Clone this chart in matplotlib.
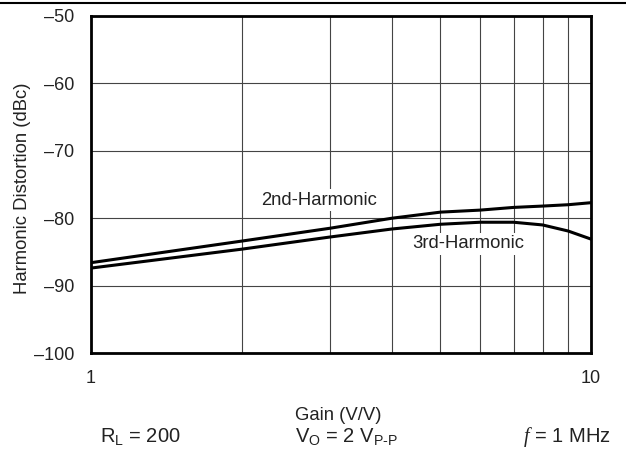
import matplotlib
matplotlib.use('Agg')
import matplotlib.pyplot as plt
from matplotlib.ticker import FixedLocator, NullFormatter

plt.rcParams['font.family'] = ['Liberation Sans', 'DejaVu Sans']
plt.rcParams['mathtext.fontset'] = 'custom'
plt.rcParams['mathtext.rm'] = 'Liberation Sans'
plt.rcParams['mathtext.it'] = 'Liberation Serif:italic'

# gain (V/V) and distortion (dBc)
gain = [1, 2, 3, 4, 5, 6, 7, 8, 9, 10]
hd2 = [-86.6, -83.4, -81.5, -80.0, -79.1, -78.8, -78.4, -78.2, -78.0, -77.7]
hd3 = [-87.4, -84.6, -82.8, -81.6, -80.9, -80.6, -80.6, -81.0, -81.9, -83.1]

y_ticks = [-100, -90, -80, -70, -60, -50]
y_labels = ['\u2013100', '\u201390', '\u201380', '\u201370', '\u201360', '\u201350']

txt = '#222222'

fig = plt.figure(figsize=(6.26, 4.49), dpi=100)
ax = fig.add_axes([91 / 626, 1 - 353 / 449, 500 / 626, 337 / 449])

ax.plot(gain, hd2, color='black', linewidth=2.2, zorder=3)
ax.plot(gain, hd3, color='black', linewidth=2.2, zorder=3)

ax.set_xscale('log')
ax.set_xlim(1, 10)
ax.set_ylim(-100, -50)
ax.xaxis.set_major_locator(FixedLocator([1, 10]))
ax.xaxis.set_minor_locator(FixedLocator([2, 3, 4, 5, 6, 7, 8, 9]))
ax.xaxis.set_minor_formatter(NullFormatter())
ax.set_xticklabels(['1', '10'])
ax.set_yticks(y_ticks)
ax.set_yticklabels(y_labels)
ax.tick_params(which='both', length=0, labelsize=13, colors=txt)
ax.tick_params(axis='y', pad=12)
ax.tick_params(axis='x', pad=12)
ax.grid(True, which='both', color='#444444', linewidth=0.8)
for s in ax.spines.values():
    s.set_linewidth(2)

ax.text(2.86, -77.3, '2nd-Harmonic', fontsize=13.3, color=txt,
        ha='center', va='center', zorder=4,
        bbox=dict(facecolor='white', edgecolor='none', pad=2))
ax.text(5.69, -83.8, '3rd-Harmonic', fontsize=13.3, color=txt,
        ha='center', va='center', zorder=4,
        bbox=dict(facecolor='white', edgecolor='none', pad=2))

ax.set_ylabel('Harmonic Distortion (dBc)', fontsize=13.3, color=txt)
ax.yaxis.set_label_coords(-0.12, 0.49)
fig.text(338 / 626, 1 - 415 / 449, 'Gain (V/V)', fontsize=13.3, color=txt,
         ha='center', va='center')

y0 = 1 - 442 / 449
fig.text(100 / 626, y0, 'R$_{\\mathrm{L}}$ = 200', fontsize=14.5,
         ha='left', va='baseline', color=txt)
fig.text(295 / 626, y0, 'V$_{\\mathrm{O}}$ = 2 V$_{\\text{P-P}}$',
         fontsize=14.5, ha='left', va='baseline', color=txt)
fig.text(523 / 626, y0, '$\\mathit{f}$ = 1 MHz', fontsize=14.5,
         ha='left', va='baseline', color=txt)

fig.add_artist(plt.Line2D([0, 1], [1 - 3 / 449, 1 - 3 / 449], color='black',
                          linewidth=1.5, transform=fig.transFigure))

fig.savefig('out.png', dpi=100)
